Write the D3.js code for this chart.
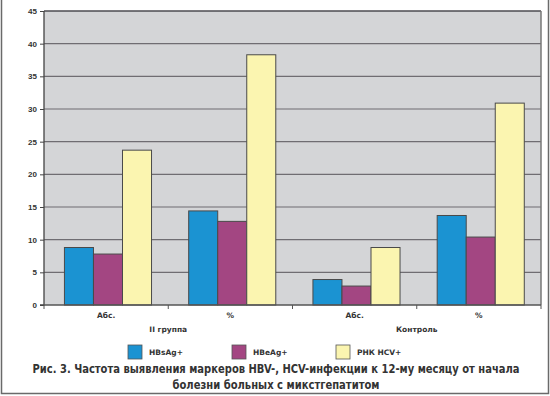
<!DOCTYPE html>
<html lang="ru">
<head>
<meta charset="UTF-8">
<title>Рис. 3</title>
<script src="https://d3js.org/d3.v7.min.js"></script>
<style>
  body { margin: 0; background: #fff; }
  svg { display: block; font-family: "DejaVu Sans", sans-serif; }
</style>
</head>
<body>
<svg width="550" height="396"></svg>
<script>
// данные
var categories = ["Абс.", "%", "Абс.", "%"];
var groups = ["II группа", "Контроль"];
var seriesNames = ["HBsAg+", "HBeAg+", "РНК HCV+"];
var hbsag = [8.8, 14.4, 3.9, 13.7];
var hbeag = [7.8, 12.8, 2.9, 10.4];
var rnaHcv = [23.7, 38.3, 8.8, 30.9];
var yTicks = [0, 5, 10, 15, 20, 25, 30, 35, 40, 45];
var titleLines = [
  "Рис. 3. Частота выявления маркеров HBV-, HCV-инфекции к 12-му месяцу от начала",
  "болезни больных с микстгепатитом"
];

var colors = ["#1b93d2", "#a34682", "#fbf5b0"];
var series = [hbsag, hbeag, rnaHcv];

var svg = d3.select("svg");
var margin = { top: 11, left: 44, right: 9, bottom: 91 };
var width = 550 - margin.left - margin.right,
    height = 396 - margin.top - margin.bottom;

var g = svg.append("g").attr("transform", "translate(" + margin.left + "," + margin.top + ")");

var x0 = d3.scaleBand().domain(d3.range(categories.length)).range([0, width]).paddingInner(0).paddingOuter(0);
var x1 = d3.scaleBand().domain(d3.range(series.length)).range([0, x0.bandwidth()]).paddingInner(0).paddingOuter(0.64).align(0.55);
var y = d3.scaleLinear().domain([0, 45]).range([height, 0]);

// фон области построения
g.append("rect").attr("width", width).attr("height", height).attr("fill", "#d4d5d7");

// линии сетки
g.selectAll(".grid").data(yTicks.filter(function(d) { return d > 0; })).enter()
  .append("line")
  .attr("x1", 0).attr("x2", width)
  .attr("y1", function(d) { return y(d); }).attr("y2", function(d) { return y(d); })
  .attr("stroke", function(d) { return d === 45 ? "#4d4b50" : "#6f6d72"; })
  .attr("stroke-width", function(d) { return d === 45 ? 1.6 : 1.1; });

// правая граница
g.append("line").attr("x1", width).attr("x2", width).attr("y1", 0).attr("y2", height)
  .attr("stroke", "#777").attr("stroke-width", 1.5);

// столбцы
series.forEach(function(vals, si) {
  g.selectAll(".bar" + si).data(vals).enter().append("rect")
    .attr("x", function(d, i) { return x0(i) + x1(si); })
    .attr("y", function(d) { return y(d); })
    .attr("width", x1.bandwidth())
    .attr("height", function(d) { return height - y(d); })
    .attr("fill", colors[si])
    .attr("stroke", "#4a4a4a")
    .attr("stroke-width", 1);
});

// ось Y
var yAxis = g.append("g").call(d3.axisLeft(y).tickValues(yTicks).tickSize(4).tickPadding(3));
yAxis.select(".domain").attr("stroke", "#444").attr("stroke-width", 1.3).attr("d", "M-4," + height + "H0V0");
yAxis.selectAll(".tick line").attr("stroke", "#444");
yAxis.selectAll("text").attr("font-size", 8).attr("font-weight", "bold").attr("fill", "#333")
  .attr("font-stretch", "condensed");

// ось X
var xg = g.append("g").attr("transform", "translate(0," + height + ")");
xg.append("line").attr("x1", 0).attr("x2", width).attr("stroke", "#555").attr("stroke-width", 1.3);
xg.selectAll(".xt").data(d3.range(categories.length + 1)).enter().append("line")
  .attr("x1", function(d) { return d * x0.step(); }).attr("x2", function(d) { return d * x0.step(); })
  .attr("y1", 0).attr("y2", 4).attr("stroke", "#555");
xg.selectAll(".cat").data(categories).enter().append("text")
  .attr("x", function(d, i) { return x0(i) + x0.bandwidth() / 2; })
  .attr("y", 13)
  .attr("text-anchor", "middle").attr("font-size", 7.5).attr("font-weight", "bold").attr("fill", "#333")
  .text(function(d) { return d; });
xg.selectAll(".grp").data(groups).enter().append("text")
  .attr("x", function(d, i) { return x0(i * 2 + 1); })
  .attr("y", 27)
  .attr("text-anchor", "middle").attr("font-size", 7.5).attr("font-weight", "bold").attr("fill", "#333")
  .text(function(d) { return d; });

// легенда
var legend = svg.append("g").attr("transform", "translate(128,345)");
seriesNames.forEach(function(name, i) {
  var lg = legend.append("g").attr("transform", "translate(" + (i * 104) + ",0)");
  lg.append("rect").attr("width", 14).attr("height", 14)
    .attr("fill", colors[i]).attr("stroke", "#555").attr("stroke-width", 0.8);
  lg.append("text").attr("x", 21).attr("y", 9.5)
    .attr("font-size", 7.5).attr("font-weight", "bold").attr("fill", "#333").text(name);
});

// подпись
svg.selectAll(".title").data(titleLines).enter().append("text")
  .attr("x", 276).attr("y", function(d, i) { return 373 + i * 16; })
  .attr("text-anchor", "middle")
  .attr("font-size", 12).attr("font-weight", "bold").attr("fill", "#333")
  .attr("textLength", function(d, i) { return i === 0 ? 487 : 207; })
  .attr("lengthAdjust", "spacingAndGlyphs")
  .text(function(d) { return d; });

// рамка
svg.append("path").attr("d", "M1.5,0V393.5H548.5V0").attr("fill", "none")
  .attr("stroke", "#6a6a6a").attr("stroke-width", 1.5);
</script>
</body>
</html>
